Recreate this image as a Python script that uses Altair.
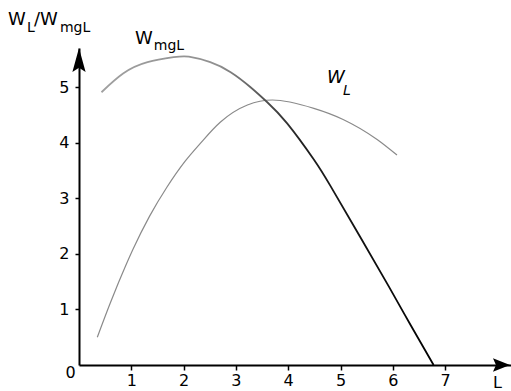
import altair as alt
import pandas as pd

# ---- data ----
wl_L = [0.35, 0.6, 0.75, 1.03, 1.35, 1.68, 2.03, 2.32, 2.7, 3.22, 3.7, 4.49, 5.05, 5.7, 6.08]
wl_V = [0.50, 1.12, 1.47, 2.08, 2.68, 3.20, 3.67, 3.99, 4.37, 4.68, 4.77, 4.62, 4.42, 4.06, 3.78]

wmgl_L = [0.43, 0.85, 1.31, 1.81, 2.1, 2.51, 2.9, 3.28, 3.6, 3.98, 4.49, 4.81, 5.38, 5.92, 6.34, 6.78]
wmgl_V = [4.91, 5.25, 5.45, 5.54, 5.55, 5.45, 5.27, 5.0, 4.73, 4.35, 3.70, 3.22, 2.30, 1.42, 0.72, 0.0]

x_ticks = [1, 2, 3, 4, 5, 6, 7]
y_ticks = [1, 2, 3, 4, 5]
x_domain = [0, 8.26]
y_domain = [0, 5.706]

FONT = "DejaVu Sans"

# annotation texts (positions in data units)
labels = pd.DataFrame([
    {"t": "W",   "x": -1.358, "y": 6.12, "s": 18},
    {"t": "L",   "x": -0.994, "y": 5.99, "s": 14},
    {"t": "/W",  "x": -0.860, "y": 6.12, "s": 18},
    {"t": "mgL", "x": -0.365, "y": 5.99, "s": 14},
    {"t": "W",   "x": 1.071,  "y": 5.78, "s": 18},
    {"t": "mgL", "x": 1.430,  "y": 5.67, "s": 14},
    {"t": "L",   "x": 7.916,  "y": -0.414, "s": 16},
])
italic_labels = pd.DataFrame([
    {"t": "W", "x": 4.742, "y": 5.076, "s": 18},
    {"t": "L", "x": 5.048, "y": 4.86, "s": 14},
])

wl = pd.DataFrame({"L": wl_L, "v": wl_V})
wmgl = pd.DataFrame({"L": wmgl_L, "v": wmgl_V})

xs = alt.Scale(domain=x_domain, nice=False, zero=False)
ys = alt.Scale(domain=y_domain, nice=False, zero=False)

xaxis = alt.Axis(values=x_ticks, grid=False, title=None, domainColor="black", domainWidth=2,
                 tickColor="black", tickWidth=1.5, tickSize=5, labelFontSize=16, labelFont=FONT,
                 labelColor="black", labelPadding=2, format="d")
yaxis = alt.Axis(values=y_ticks, grid=False, title=None, domainColor="black", domainWidth=2,
                 tickColor="black", tickWidth=1.5, tickSize=4, labelFontSize=16, labelFont=FONT,
                 labelColor="black", labelPadding=6, format="d")

grad = alt.Gradient(gradient="linear",
                    stops=[alt.GradientStop(color="#a0a0a0", offset=0),
                           alt.GradientStop(color="#909090", offset=0.35),
                           alt.GradientStop(color="#202020", offset=0.6),
                           alt.GradientStop(color="#000000", offset=1)],
                    x1=0, x2=1, y1=0, y2=0)

line_wl = alt.Chart(wl).mark_line(interpolate="monotone", color="#8a8a8a", strokeWidth=1.2).encode(
    x=alt.X("L:Q", scale=xs, axis=xaxis),
    y=alt.Y("v:Q", scale=ys, axis=yaxis),
)
line_wmgl = alt.Chart(wmgl).mark_line(interpolate="natural", color=grad, strokeWidth=1.8).encode(
    x=alt.X("L:Q", scale=xs),
    y=alt.Y("v:Q", scale=ys),
)

text_layer = alt.Chart(labels).mark_text(align="left", baseline="alphabetic", font=FONT, color="black").encode(
    x=alt.X("x:Q", scale=xs), y=alt.Y("y:Q", scale=ys), text="t:N",
    size=alt.Size("s:Q", scale=None, legend=None),
)
italic_layer = alt.Chart(italic_labels).mark_text(align="left", baseline="alphabetic", font=FONT,
                                                  fontStyle="italic", color="black").encode(
    x=alt.X("x:Q", scale=xs), y=alt.Y("y:Q", scale=ys), text="t:N",
    size=alt.Size("s:Q", scale=None, legend=None),
)
zero_label = alt.Chart(pd.DataFrame({"t": ["0"], "x": [-0.163], "y": [-0.135]})).mark_text(
    align="center", baseline="middle", font=FONT, fontSize=16, color="black").encode(
    x=alt.X("x:Q", scale=xs), y=alt.Y("y:Q", scale=ys), text="t:N")

y_arrow = alt.Chart(pd.DataFrame({"x": [0], "y": [5.49]})).mark_point(
    shape="M0,-1L0.55,1L0,0.65L-0.55,1Z", size=576, filled=True, color="black", opacity=1, strokeWidth=0
).encode(x=alt.X("x:Q", scale=xs), y=alt.Y("y:Q", scale=ys))
x_arrow = alt.Chart(pd.DataFrame({"x": [8.078], "y": [0]})).mark_point(
    shape="M1,0L-1,-0.8L-0.65,0L-1,0.8Z", size=289, filled=True, color="black", opacity=1, strokeWidth=0
).encode(x=alt.X("x:Q", scale=xs), y=alt.Y("y:Q", scale=ys))

chart = alt.layer(line_wl, line_wmgl, text_layer, italic_layer, zero_label, y_arrow, x_arrow).properties(
    width=432, height=317,
    autosize=alt.AutoSizeParams(type="none"),
    padding={"left": 79, "top": 48, "right": 0, "bottom": 26},
    background="white",
).configure_view(stroke=None)

chart.save("out.html", embed_options={"renderer": "svg", "actions": False})
